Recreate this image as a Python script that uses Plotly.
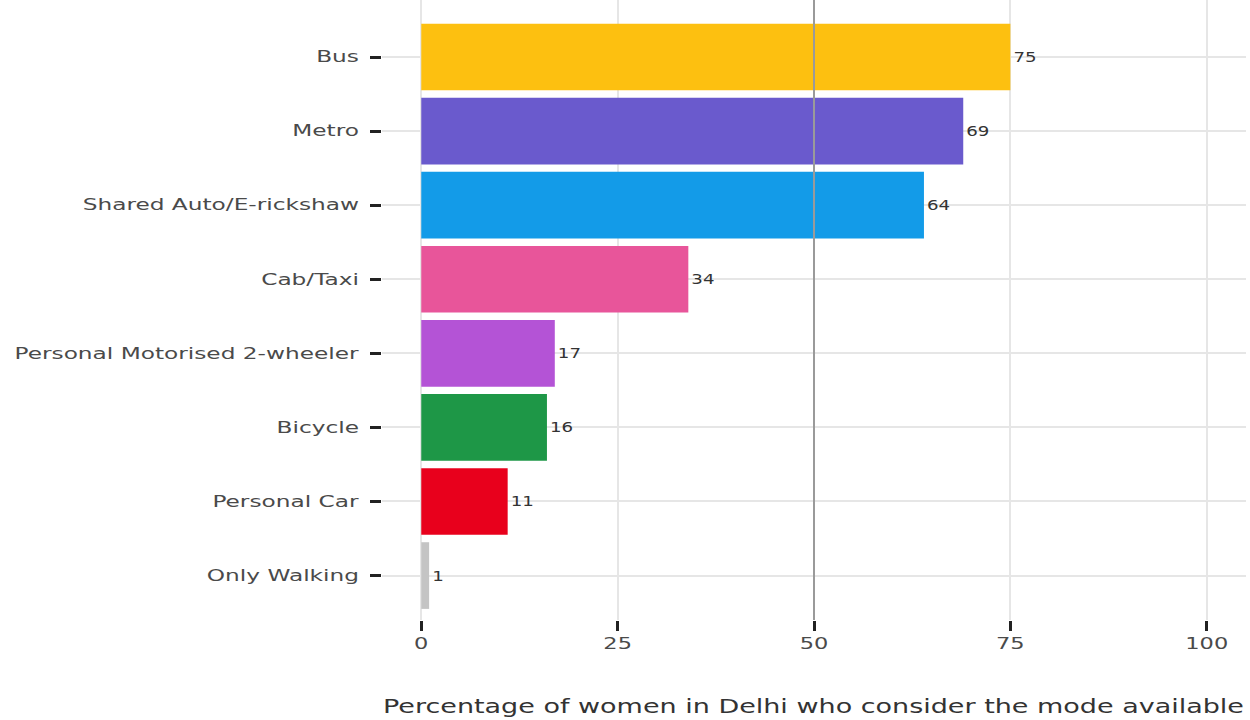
import plotly.graph_objects as go

# Share of women in Delhi who consider each travel mode available (%)
modes = ["Only Walking", "Personal Car", "Bicycle", "Personal Motorised 2-wheeler",
         "Cab/Taxi", "Shared Auto/E-rickshaw", "Metro", "Bus"]
values = [1, 11, 16, 17, 34, 64, 69, 75]
colors = ["#c4c4c4", "#e8001c", "#1e9747", "#b453d6",
          "#e8559a", "#139be8", "#6a5acd", "#fdc010"]
x_ticks = [0, 25, 50, 75, 100]

FONT = "DejaVu Sans"
TEXT_GREY = "#4a4a4a"

fig = go.Figure()
fig.add_trace(go.Bar(
    y=modes,
    x=values,
    orientation="h",
    marker=dict(color=colors, line=dict(width=0)),
    width=0.9,
    text=[str(v) for v in values],
    textposition="outside",
    cliponaxis=False,
    textfont=dict(family=FONT, size=14, color="#333333"),
    hoverinfo="skip",
))

# reference line at 50%
fig.add_shape(type="line", xref="x", yref="paper", x0=50, x1=50, y0=0, y1=1,
              line=dict(color="#9a9a9a", width=2), layer="above")

fig.add_annotation(
    text="Percentage of women in Delhi who consider the mode available",
    xref="paper", yref="paper", x=1.0, y=0, xanchor="right", yanchor="middle",
    align="right", yshift=-86, showarrow=False,
    font=dict(family=FONT, size=20, color="#333333"),
)

fig.update_layout(
    width=1250, height=720,
    margin=dict(l=382, r=4, t=0, b=100),
    plot_bgcolor="white", paper_bgcolor="white",
    showlegend=False,
    bargap=0.1,
    font=dict(family=FONT, size=15, color=TEXT_GREY),
)
fig.update_xaxes(
    range=[-5, 105], tickvals=x_ticks, ticktext=[str(t) for t in x_ticks],
    showgrid=True, gridcolor="#e6e6e6", gridwidth=1.5,
    zeroline=False, showline=False,
    ticks="outside", ticklen=10, tickwidth=2.5, tickcolor="#222222",
    tickfont=dict(family=FONT, size=15, color=TEXT_GREY),
)
fig.update_yaxes(
    categoryorder="array", categoryarray=modes,
    range=[-0.6, 7.77],
    showgrid=True, gridcolor="#e6e6e6", gridwidth=1.5,
    zeroline=False, showline=False,
    ticks="outside", ticklen=11, tickwidth=2.5, tickcolor="#222222",
    ticklabelstandoff=8,
    tickfont=dict(family=FONT, size=15, color=TEXT_GREY),
)

# The chart's lettering is set in a wide face; widen the glyphs horizontally
# around each label's anchor so the texts keep their alignment.
widen_text = """
function widen(sel, s, mode) {
  document.querySelectorAll(sel).forEach(function (t) {
    var b = t.getBBox();
    var p = mode === 'end' ? b.x + b.width : (mode === 'middle' ? b.x + b.width / 2 : b.x);
    var tr = t.getAttribute('transform') || '';
    t.setAttribute('transform', tr + ' translate(' + p + ',0) scale(' + s + ',1) translate(' + (-p) + ',0)');
  });
}
widen('.ytick text', 1.55, 'end');
widen('.xtick text', 1.5, 'middle');
widen('.bartext', 1.3, 'start');
widen('.annotation-text', 1.35, 'end');
"""

fig.write_html("out.html", post_script=widen_text)
